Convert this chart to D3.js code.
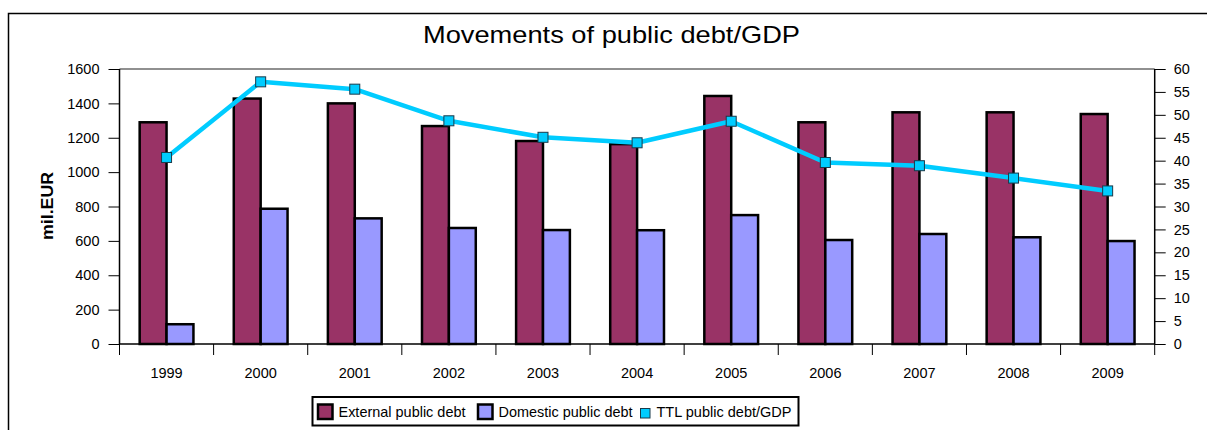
<!DOCTYPE html>
<html>
<head>
<meta charset="utf-8">
<script src="https://cdn.jsdelivr.net/npm/d3@7"></script>
<style>
  html, body { margin: 0; padding: 0; background: #fff; }
  svg { display: block; }
  text { font-family: Arial, "Liberation Sans", sans-serif; fill: #000; }
</style>
</head>
<body>
<svg id="chart" width="1207" height="430"></svg>
<script>
const years = ["1999","2000","2001","2002","2003","2004","2005","2006","2007","2008","2009"];
const externalDebt = [1290, 1428, 1400, 1268, 1181, 1163, 1443, 1290, 1348, 1348, 1338];
const domesticDebt = [115, 787, 731, 675, 663, 662, 750, 605, 640, 621, 599];
const debtToGDP = [40.7, 57.2, 55.6, 48.7, 45.1, 43.9, 48.6, 39.6, 38.9, 36.2, 33.4];
const leftTicks = [0, 200, 400, 600, 800, 1000, 1200, 1400, 1600];
const rightTicks = [0, 5, 10, 15, 20, 25, 30, 35, 40, 45, 50, 55, 60];
const seriesNames = ["External public debt", "Domestic public debt", "TTL public debt/GDP"];
const barSeries = ["ext", "dom"];
const colors = { ext: "#993366", dom: "#9999FF", line: "#00CCFF" };

const svg = d3.select("#chart");
const L = 119.5, R = 1154.7, T = 69, B = 344;

// outer frame
svg.append("path").attr("d", "M8.5,440 V13.5 H1220")
  .attr("fill", "none").attr("stroke", "#000").attr("stroke-width", 1.5);

// title
svg.append("text").attr("x", 611.5).attr("y", 43).attr("text-anchor", "middle")
  .attr("font-size", 24).attr("textLength", 377).attr("lengthAdjust", "spacingAndGlyphs")
  .text("Movements of public debt/GDP");

const x0 = d3.scaleBand().domain(years).range([L, R]).paddingInner(0).paddingOuter(0);
const x1 = d3.scaleBand().domain(barSeries).range([0, x0.bandwidth()]).paddingInner(0).paddingOuter(0.75);
const yL = d3.scaleLinear().domain([0, 1600]).range([B, T]);
const yR = d3.scaleLinear().domain([0, 60]).range([B, T]);

// plot top grey line
svg.append("line").attr("x1", L).attr("x2", R).attr("y1", T).attr("y2", T)
  .attr("stroke", "#909090").attr("stroke-width", 2);

// bars
const rows = years.map((y, i) => ({ year: y, ext: externalDebt[i], dom: domesticDebt[i] }));
const g = svg.append("g");
rows.forEach(r => {
  barSeries.forEach(s => {
    g.append("rect")
      .attr("x", x0(r.year) + x1(s))
      .attr("y", yL(r[s]))
      .attr("width", x1.bandwidth())
      .attr("height", B - yL(r[s]))
      .attr("fill", colors[s]).attr("stroke", "#000").attr("stroke-width", 2.5);
  });
});

// axes
const axL = d3.axisLeft(yL).tickValues(leftTicks).tickFormat(d3.format("d")).tickSize(11).tickPadding(9);
const gL = svg.append("g").attr("transform", `translate(${L},0)`).call(axL);
const axR = d3.axisRight(yR).tickValues(rightTicks).tickFormat(d3.format("d")).tickSize(11).tickPadding(8);
const gR = svg.append("g").attr("transform", `translate(${R},0)`).call(axR);
const axB = d3.axisBottom(x0).tickSize(0).tickPadding(24);
const gB = svg.append("g").attr("transform", `translate(0,${B})`).call(axB);
// category separator ticks
svg.append("g").selectAll("line").data(years.concat(["end"])).join("line")
  .attr("x1", (d, i) => i < years.length ? x0(d) : R)
  .attr("x2", (d, i) => i < years.length ? x0(d) : R)
  .attr("y1", B).attr("y2", B + 11)
  .attr("stroke", "#000").attr("stroke-width", 1);

[gL, gR, gB].forEach(ax => {
  ax.attr("font-size", 14.5).attr("font-family", "Arial, 'Liberation Sans', sans-serif");
  ax.select(".domain").attr("stroke", "#000").attr("stroke-width", 1.5);
  ax.selectAll(".tick line").attr("stroke", "#000");
  ax.selectAll("text").attr("font-size", 14.5).attr("fill", "#000");
});
gL.select(".domain").attr("d", `M0,${B}V${T}`);
gR.select(".domain").attr("d", `M0,${B}V${T}`);
gB.select(".domain").attr("d", `M${L},0H${R}`);

// y label
svg.append("text").attr("transform", "translate(53,206) rotate(-90)")
  .attr("text-anchor", "middle").attr("font-size", 16).attr("font-weight", "bold")
  .attr("textLength", 68).attr("lengthAdjust", "spacingAndGlyphs").text("mil.EUR");

// line
const cx = d => x0(d) + x0.bandwidth() / 2;
const lineData = years.map((y, i) => ({ year: y, v: debtToGDP[i] }));
svg.append("path").datum(lineData)
  .attr("d", d3.line().x(d => cx(d.year)).y(d => yR(d.v)))
  .attr("fill", "none").attr("stroke", colors.line).attr("stroke-width", 4.5).attr("stroke-linejoin", "round");
svg.append("g").selectAll("rect").data(lineData).join("rect")
  .attr("x", d => cx(d.year) - 5).attr("y", d => yR(d.v) - 5)
  .attr("width", 10).attr("height", 10)
  .attr("fill", colors.line).attr("stroke", "#1a3a4a").attr("stroke-width", 1);

// legend
const lg = svg.append("g");
lg.append("rect").attr("x", 312.5).attr("y", 397).attr("width", 486).attr("height", 28.5)
  .attr("fill", "#fff").attr("stroke", "#000").attr("stroke-width", 2);
const items = [
  { name: seriesNames[0], type: "bar", color: colors.ext, x: 317, w: 127 },
  { name: seriesNames[1], type: "bar", color: colors.dom, x: 477, w: 134 },
  { name: seriesNames[2], type: "mark", color: colors.line, x: 640, w: 135 }
];
items.forEach(it => {
  if (it.type === "bar") {
    lg.append("rect").attr("x", it.x + 1).attr("y", 404.5).attr("width", 14.5).attr("height", 14.5)
      .attr("fill", it.color).attr("stroke", "#000").attr("stroke-width", 2.5);
    lg.append("text").attr("x", it.x + 21.5).attr("y", 417).attr("font-size", 14.5)
      .attr("textLength", it.w).attr("lengthAdjust", "spacingAndGlyphs").text(it.name);
  } else {
    lg.append("rect").attr("x", it.x + 0.5).attr("y", 408.5).attr("width", 9.5).attr("height", 9.5)
      .attr("fill", it.color).attr("stroke", "#1a3a4a").attr("stroke-width", 1);
    lg.append("text").attr("x", it.x + 16.5).attr("y", 417).attr("font-size", 14.5)
      .attr("textLength", it.w).attr("lengthAdjust", "spacingAndGlyphs").text(it.name);
  }
});
</script>
</body>
</html>
